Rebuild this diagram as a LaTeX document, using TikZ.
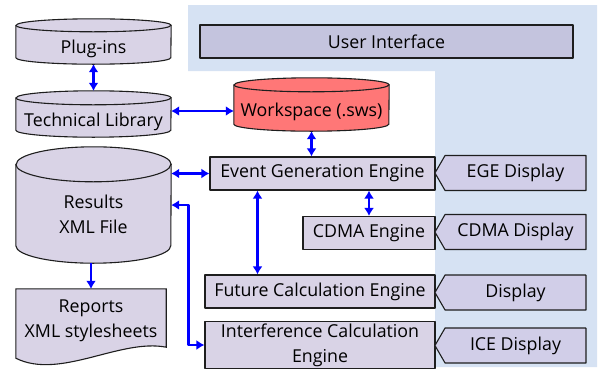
\documentclass[tikz,border=0pt]{standalone}
\usepackage{fontspec}
\setmainfont{Open Sans}
\usetikzlibrary{arrows.meta,shapes.symbols,backgrounds,calc}

\definecolor{bgblue}{RGB}{214,226,243}
\definecolor{lav}{RGB}{217,211,230}
\definecolor{uifill}{RGB}{196,196,222}
\definecolor{dispfill}{RGB}{209,206,232}
\definecolor{wsred}{RGB}{255,119,119}
\definecolor{edge}{RGB}{30,30,30}
\definecolor{linkblue}{RGB}{0,0,255}

\newcommand\txtfont{\fontsize{17.8}{25}\selectfont}
% cylinder drawn round a named node: name, half height of the end, fill
\newcommand\dbdraw[3]{%
  \filldraw[fill=#3,draw=edge,line width=1.1pt]
    ([yshift=-#2pt]#1.north west) -- ([yshift=#2pt]#1.south west)
    arc[start angle=180,end angle=360,x radius=77.5pt,y radius=#2pt]
    -- ([yshift=-#2pt]#1.north east)
    arc[start angle=0,end angle=180,x radius=77.5pt,y radius=#2pt] -- cycle;
  \draw[draw=edge,line width=1.1pt] ([yshift=-#2pt]#1.north west)
    arc[start angle=180,end angle=360,x radius=77.5pt,y radius=#2pt];}

\begin{document}
\begin{tikzpicture}[x=1pt,y=-1pt,line join=round,
  box/.style={draw=edge,fill=lav,line width=1.1pt,minimum height=33,inner sep=2pt,font=\txtfont},
  db/.style={minimum width=155,inner sep=0pt,font=\txtfont,align=center},
  disp/.style={signal,signal to=west,signal pointer angle=120,draw=edge,fill=dispfill,
    line width=1.1pt,minimum width=151,minimum height=35,inner sep=2pt,font=\txtfont},
  link/.style={draw=linkblue,line width=2.6pt},
  >={Latex[length=8pt,width=10pt]}]
\useasboundingbox (0,0) rectangle (600,370);

\begin{scope}[on background layer]
\fill[bgblue] (188,5) -- (597,5) -- (597,367) -- (435,367) -- (435,71) -- (188,71) -- cycle;
\end{scope}

\node[box,fill=uifill,minimum width=373] (ui) at (386.5,41.5) {User Interface};

% data stores
\node[db,minimum height=45,text height=27pt,text depth=4pt] (plug) at (93.5,41.5) {Plug-ins};
\node[db,minimum height=46,text height=28pt,text depth=4pt] (lib) at (93.5,114) {Technical Library};
\node[db,minimum height=53,text height=27pt,text depth=4pt] (ws) at (311.5,104.5) {Workspace (.sws)};
\node[db,minimum height=116] (res) at (93.5,205) {\rule{0pt}{33pt}Results\\XML File};
\node[db,minimum width=150,minimum height=64] (rep) at (91,321) {Reports\\XML stylesheets};

\begin{scope}[on background layer]
\dbdraw{plug}{6.5}{lav}
\dbdraw{lib}{7}{lav}
\dbdraw{ws}{7}{wsred}
\dbdraw{res}{17.5}{lav}
\filldraw[fill=lav,draw=edge,line width=1.1pt] (rep.north west) -- (rep.north east)
  -- ($(rep.south east)+(0,-6)$) .. controls ($(rep.south east)+(-46,-15)$) and ($(rep.south west)+(44,27)$) .. ($(rep.south west)+(0,5)$) -- cycle;
\end{scope}

% engines
\node[box,minimum width=225] (ege) at (322.5,173.5) {Event Generation Engine};
\node[box,minimum width=132] (cdma) at (369,233) {CDMA Engine};
\node[box,minimum width=230] (fce) at (320,291.5) {Future Calculation Engine};
\node[box,minimum width=230,minimum height=46,align=center] (ice) at (320,345) {Interference Calculation\\Engine};

% displays
\foreach \n/\y/\t in {egedisp/173/EGE Display,cdmadisp/232/CDMA Display,fcedisp/292.5/Display,icedisp/345.5/ICE Display}{
  \node[disp] (\n) at (515.5,\y) {\t};}

\draw[link,<->] (plug.south) -- (lib.north);
\draw[link,<->] ([yshift=3]lib.east) -- ([yshift=3]lib.east -| ws.west);
\draw[link,<->] (ws.south) -- (ws.south |- ege.north);
\draw[link,<->] (ege.west -| res.east) -- (ege.west);
\draw[link,<->] (cdma.north) -- (cdma.north |- ege.south);
\draw[link,<->] ([xshift=-65]ege.south) -- ([xshift=-65]ege.south |- fce.north);
\draw[link,<->] (res.east) -- ++(17,0) |- (ice.west);
\draw[link,->] (rep.north |- res.south) -- (rep.north);
\end{tikzpicture}
\end{document}
